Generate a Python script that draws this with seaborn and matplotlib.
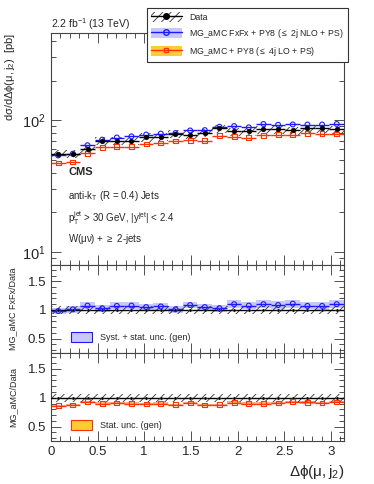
import numpy as np
import pandas as pd
import matplotlib
import matplotlib.pyplot as plt
import seaborn as sns
from matplotlib.patches import Patch
from matplotlib.lines import Line2D
from matplotlib.legend_handler import HandlerTuple
from matplotlib.ticker import MultipleLocator, FixedLocator, NullFormatter

sns.set_style("ticks")
plt.rcParams["font.family"] = ["Liberation Sans", "DejaVu Sans"]
plt.rcParams["mathtext.fontset"] = "custom"
plt.rcParams["mathtext.rm"] = "Liberation Sans"
plt.rcParams["mathtext.it"] = "Liberation Sans"
plt.rcParams["mathtext.default"] = "regular"
plt.rcParams["hatch.linewidth"] = 0.6

# binning in delta phi(mu, j2)
bin_edges = np.linspace(0, np.pi, 21)

# data cross section [pb] and relative unc.
data_xs = [55, 55, 60, 69, 69, 70, 74, 74.5, 79, 77, 80, 86.5, 82, 82, 85, 85, 83.5, 86.5, 86.5, 85]
data_unc = 0.07

# MG_aMC FxFx (NLO) prediction
fxfx_xs = [53.9, 55.6, 64.5, 71.1, 73.8, 75.3, 77.7, 79.0, 79.8, 83.5,
           84.0, 89.1, 90.2, 88.2, 93.5, 92.2, 92.7, 92.6, 92.6, 93.5]
fxfx_ratio = [0.98, 1.01, 1.075, 1.03, 1.07, 1.075, 1.05, 1.06, 1.01, 1.085,
              1.05, 1.03, 1.10, 1.075, 1.10, 1.085, 1.11, 1.07, 1.07, 1.10]
fxfx_band = [0.06, 0.06, 0.06, 0.06, 0.06, 0.06, 0.06, 0.06, 0.06, 0.06,
             0.06, 0.06, 0.07, 0.06, 0.07, 0.07, 0.07, 0.06, 0.07, 0.07]

# MG_aMC LO prediction
lo_xs = [47.3, 48.1, 55.8, 62.1, 62.8, 63.0, 65.9, 67.1, 69.5, 70.1,
         70.0, 76.1, 75.0, 73.8, 76.5, 77.4, 77.7, 79.6, 78.7, 78.6]
lo_ratio = [0.86, 0.875, 0.93, 0.90, 0.91, 0.90, 0.89, 0.90, 0.88, 0.91,
            0.875, 0.88, 0.915, 0.90, 0.90, 0.91, 0.93, 0.92, 0.91, 0.925]
lo_band = 0.02

x_ticks = [0, 0.5, 1, 1.5, 2, 2.5, 3]
x_ticklabels = ["0", "0.5", "1", "1.5", "2", "2.5", "3"]

centers = 0.5 * (bin_edges[:-1] + bin_edges[1:])
width = bin_edges[1] - bin_edges[0]
df = pd.DataFrame({"x": centers, "data": data_xs, "fxfx": fxfx_xs, "lo": lo_xs,
                   "r_fxfx": fxfx_ratio, "r_lo": lo_ratio, "one": 1.0})

BLUE = "#1a1aff"
LBLUE = "#c8c8ff"
RED = "#ff3300"
ORANGE = "#ffcc33"
MS = 12

fig = plt.figure(figsize=(3.74, 4.84), dpi=100)
L, W = 0.136, 0.784
ax = fig.add_axes([L, 0.452, W, 0.480])
ax1 = fig.add_axes([L, 0.271, W, 0.181])
ax2 = fig.add_axes([L, 0.089, W, 0.182])


def hatch_band(a, y, rel):
    y = np.asarray(y, dtype=float)
    a.bar(df["x"], 2 * rel * y, bottom=y * (1 - rel), width=width, fill=False,
          hatch="////", edgecolor="#333333", linewidth=0, zorder=2)


def steps(a, y, color, lw=1.0, z=3):
    a.hlines(y, bin_edges[:-1], bin_edges[1:], colors=color, linewidth=lw, zorder=z)


# ---- main panel
ax.set_yscale("log")
hatch_band(ax, df["data"], data_unc)
steps(ax, df["lo"], RED)
sns.scatterplot(data=df, x="x", y="lo", ax=ax, marker="s", s=MS, facecolor="none",
                edgecolor=RED, linewidth=0.8, zorder=4, legend=False)
steps(ax, df["fxfx"], BLUE)
sns.scatterplot(data=df, x="x", y="fxfx", ax=ax, marker="o", s=MS, facecolor="none",
                edgecolor=BLUE, linewidth=0.8, zorder=4, legend=False)
steps(ax, df["data"], "black")
sns.scatterplot(data=df, x="x", y="data", ax=ax, marker="o", s=MS, color="black",
                edgecolor="black", zorder=5, legend=False)
ax.set_ylim(7.9, 460)
ax.set_ylabel(r"d$\sigma$/d$\Delta\phi(\mu,$j$_2)$  [pb]", fontsize=8, loc="top")
ax.text(0, 1.005, r"2.2 fb$^{-1}$ (13 TeV)", transform=ax.transAxes, fontsize=7.5,
        ha="left", va="bottom")
ax.text(0.06, 0.40, "CMS", transform=ax.transAxes, fontsize=8, weight="bold", va="center")
ax.text(0.06, 0.30, r"anti-k$_\mathrm{T}$ (R = 0.4) Jets", transform=ax.transAxes, fontsize=7, va="center")
ax.text(0.06, 0.205, r"p$_\mathrm{T}^\mathrm{jet}$ > 30 GeV, |y$^\mathrm{jet}$| < 2.4",
        transform=ax.transAxes, fontsize=7, va="center")
ax.text(0.06, 0.115, r"W($\mu\nu$) + $\geq$ 2-jets", transform=ax.transAxes, fontsize=7, va="center")

# ---- ratio FxFx / data
ax1.bar(df["x"], 2 * np.array(fxfx_band), bottom=np.array(fxfx_ratio) - np.array(fxfx_band),
        width=width, color=LBLUE, linewidth=0, zorder=1)
hatch_band(ax1, df["one"], data_unc)
ax1.axhline(1, color="black", lw=1.0, zorder=3)
sns.scatterplot(data=df, x="x", y="one", ax=ax1, s=5, color="black", zorder=4, legend=False)
steps(ax1, df["r_fxfx"], BLUE)
sns.scatterplot(data=df, x="x", y="r_fxfx", ax=ax1, marker="o", s=MS, facecolor="none",
                edgecolor=BLUE, linewidth=0.8, zorder=5, legend=False)
ax1.set_ylim(0.25, 1.78)
ax1.set_ylabel("MG_aMC FxFx/Data", fontsize=6.5)
ax1.legend(handles=[Patch(facecolor=LBLUE, edgecolor=BLUE, lw=0.8)],
           labels=["Syst. + stat. unc. (gen)"], loc="lower left", frameon=False,
           fontsize=6.5, handlelength=2.4, handleheight=1.3, bbox_to_anchor=(0.04, 0.03))

# ---- ratio LO / data
ax2.bar(df["x"], 2 * lo_band * np.ones(len(df)), bottom=np.array(lo_ratio) - lo_band,
        width=width, color="#ffb08a", linewidth=0, zorder=1)
hatch_band(ax2, df["one"], data_unc)
ax2.axhline(1, color="black", lw=1.0, zorder=3)
sns.scatterplot(data=df, x="x", y="one", ax=ax2, s=5, color="black", zorder=4, legend=False)
steps(ax2, df["r_lo"], RED)
sns.scatterplot(data=df, x="x", y="r_lo", ax=ax2, marker="s", s=MS, facecolor="none",
                edgecolor=RED, linewidth=0.8, zorder=5, legend=False)
ax2.set_ylim(0.25, 1.78)
ax2.set_ylabel("MG_aMC/Data", fontsize=6.5)
ax2.legend(handles=[Patch(facecolor=ORANGE, edgecolor=RED, lw=0.8)],
           labels=["Stat. unc. (gen)"], loc="lower left", frameon=False,
           fontsize=6.5, handlelength=2.4, handleheight=1.3, bbox_to_anchor=(0.04, 0.03))
ax2.set_xlabel(r"$\Delta\phi(\mu,$j$_2)$", fontsize=11, loc="right")

for a in (ax, ax1, ax2):
    a.set_xlim(0, np.pi)
    a.xaxis.set_major_locator(FixedLocator(x_ticks))
    a.xaxis.set_minor_locator(MultipleLocator(0.1))
    a.tick_params(which="both", direction="in", top=True, right=True, labelsize=9.5,
                  width=0.6, color="#333333")
    a.tick_params(which="major", length=7)
    a.tick_params(which="minor", length=3.5)
    for s in a.spines.values():
        s.set_linewidth(0.8)
        s.set_color("#444444")
    a.yaxis.set_label_coords(-0.115, 0.5 if a is not ax else 1.0)
ax2.set_xticklabels(x_ticklabels)
for a in (ax1, ax2):
    a.yaxis.set_major_locator(FixedLocator([0.5, 1.0, 1.5]))
    a.set_yticklabels(["0.5", "1", "1.5"])
    a.yaxis.set_minor_locator(MultipleLocator(0.1))
for a in (ax, ax1):
    a.tick_params(labelbottom=False)
    a.set_xlabel("")
ax.yaxis.set_minor_formatter(NullFormatter())
ax.tick_params(labelsize=10.5)

# top legend
h_data = (Patch(facecolor="none", edgecolor="#333333", hatch="////", lw=0),
          Line2D([], [], color="black", marker="o", ms=4, lw=1.0))
h_fxfx = (Patch(facecolor=LBLUE, lw=0),
          Line2D([], [], color=BLUE, marker="o", ms=4, mfc="none", lw=1.0))
h_lo = (Patch(facecolor=ORANGE, lw=0),
        Line2D([], [], color=RED, marker="s", ms=3.5, mfc="none", lw=1.0))
leg = fig.legend([h_data, h_fxfx, h_lo],
                 ["Data", r"MG_aMC FxFx + PY8 ($\leq$ 2j NLO + PS)",
                  r"MG_aMC + PY8 ($\leq$ 4j LO + PS)"],
                 handler_map={tuple: HandlerTuple(ndivide=1, pad=0)},
                 loc="upper left", bbox_to_anchor=(0.392, 0.983), fontsize=6.3,
                 handlelength=3.6, handleheight=1.4, fancybox=False, edgecolor="#333333",
                 framealpha=1, borderpad=0.45, labelspacing=0.55, handletextpad=0.8,
                 borderaxespad=0)
leg.get_frame().set_linewidth(0.8)

fig.savefig("out.png", dpi=100)
